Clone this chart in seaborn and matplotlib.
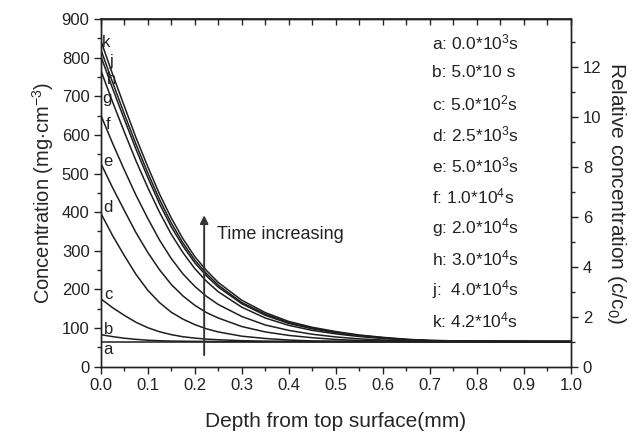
import numpy as np
import pandas as pd
import matplotlib
matplotlib.use("Agg")
import matplotlib.pyplot as plt
import seaborn as sns
from matplotlib.ticker import MultipleLocator

sns.set_theme(style="ticks")
plt.rcParams['font.family'] = ['Liberation Sans', 'DejaVu Sans']
plt.rcParams['mathtext.fontset'] = 'custom'
plt.rcParams['mathtext.rm'] = 'Liberation Sans'
plt.rcParams['mathtext.it'] = 'Liberation Sans:italic'
plt.rcParams['mathtext.bf'] = 'Liberation Sans:bold'

# ---- data ----
depth = [0.0, 0.025, 0.05, 0.075, 0.1, 0.125, 0.15, 0.175, 0.2, 0.225, 0.25,
         0.3, 0.35, 0.4, 0.45, 0.5, 0.55, 0.6, 0.65, 0.7, 0.8, 0.9, 1.0]
curve_a = [65] * 23
curve_b = [83, 77.9, 73.8, 70.8, 68.5, 67.2, 66.4, 65.9, 65.6, 65.4, 65.2,
           65, 65, 65, 65, 65, 65, 65, 65, 65, 65, 65, 65]
curve_c = [176, 153, 133, 115, 101, 90.5, 83, 77.5, 74, 71.4, 69.8,
           67.3, 66, 65.4, 65.2, 65, 65, 65, 65, 65, 65, 65, 65]
curve_d = [398, 340, 288, 239, 198, 166, 141, 123, 109, 98, 90,
           79, 73, 69, 66.7, 65.8, 65.4, 65.2, 65, 65, 65, 65, 65]
curve_e = [527, 464, 405, 347, 296, 251, 213, 183, 159, 140, 126,
           104, 90, 81, 75, 70.5, 67.8, 66.4, 65.8, 65.4, 65.1, 65, 65]
curve_f = [652, 579, 510, 444, 384, 328, 280, 240, 208, 182, 161,
           130, 108, 94, 84, 77, 72, 69, 67, 66, 65.4, 65.1, 65]
curve_g = [768, 686, 608, 533, 464, 400, 343, 295, 254, 221, 194,
           154, 126, 107, 94, 85, 78, 73, 69.4, 67.1, 65.7, 65.2, 65]
curve_h = [805, 721, 641, 563, 490, 422, 362, 312, 269, 235, 206,
           163, 133, 112, 98, 88, 80, 74, 70, 67.5, 66, 65.3, 65]
curve_j = [822, 737, 655, 576, 502, 433, 372, 320, 276, 241, 211,
           166, 136, 114, 100, 89, 81, 75, 70.5, 67.7, 66, 65.3, 65]
curve_k = [845, 758, 675, 593, 518, 447, 385, 331, 285, 249, 218,
           172, 140, 117, 102, 91, 82, 76, 71, 68, 66, 65.3, 65]

curve_names = ['a', 'b', 'c', 'd', 'e', 'f', 'g', 'h', 'j', 'k']
curve_values = [curve_a, curve_b, curve_c, curve_d, curve_e, curve_f,
                curve_g, curve_h, curve_j, curve_k]
legend_texts = ['a: 0.0*10$^{3}$s', 'b: 5.0*10 s', 'c: 5.0*10$^{2}$s',
                'd: 2.5*10$^{3}$s', 'e: 5.0*10$^{3}$s', 'f: 1.0*10$^{4}$s',
                'g: 2.0*10$^{4}$s', 'h: 3.0*10$^{4}$s', 'j:  4.0*10$^{4}$s',
                'k: 4.2*10$^{4}$s']
c0 = 64.7

rows = []
for name, vals in zip(curve_names, curve_values):
    for x, y in zip(depth, vals):
        rows.append({'curve': name, 'depth': x, 'conc': y})
df = pd.DataFrame(rows)

# ---- figure ----
fig = plt.figure(figsize=(6.4, 4.36), dpi=100)
L, R, T, B = 100.7, 571.0, 19.0, 366.7
ax = fig.add_axes([L / 640, 1 - B / 436, (R - L) / 640, (B - T) / 436])
ax.set_facecolor('white')

sns.lineplot(data=df, x='depth', y='conc', hue='curve',
             palette=['#1e1e1e'] * len(curve_names), estimator=None,
             linewidth=1.1, legend=False, ax=ax, sort=False)

ax.set_xlim(0, 1.0)
ax.set_ylim(0, 900)
ax.xaxis.set_major_locator(MultipleLocator(0.1))
ax.xaxis.set_minor_locator(MultipleLocator(0.05))
ax.yaxis.set_major_locator(MultipleLocator(100))
ax.yaxis.set_minor_locator(MultipleLocator(50))
ax.set_xticklabels([f'{v:.1f}' for v in ax.get_xticks()])
ax.tick_params(axis='both', which='major', direction='out', length=5,
               width=1, labelsize=12, colors='#222222', pad=3)
ax.tick_params(axis='both', which='minor', direction='out', length=3, width=1)
ax.tick_params(axis='x', top=False)

top = ax.secondary_xaxis('top')
top.xaxis.set_major_locator(MultipleLocator(0.05))
top.tick_params(direction='in', length=4, width=1, labeltop=False)

for s in ax.spines.values():
    s.set_linewidth(1.0)
    s.set_color('#222222')

ax.set_xlabel('Depth from top surface(mm)', fontsize=15, labelpad=14)
ax.set_ylabel('Concentration (mg$\\cdot$cm$^{-3}$)', fontsize=14.5, labelpad=4)

ax2 = ax.twinx()
ax2.set_ylim(0, 900 / c0)
ax2.yaxis.set_major_locator(MultipleLocator(2))
ax2.yaxis.set_minor_locator(MultipleLocator(1))
ax2.tick_params(axis='y', which='major', direction='out', length=5, width=1,
                labelsize=12, colors='#222222')
ax2.tick_params(axis='y', which='minor', direction='out', length=3, width=1)
ax2.set_ylabel('Relative concentration (c/c$_0$)', fontsize=15,
               rotation=270, labelpad=19)
for s in ax2.spines.values():
    s.set_linewidth(1.0)
    s.set_color('#222222')

# curve labels
label_pos = {'a': (0.016, 44), 'b': (0.016, 96), 'c': (0.016, 186),
             'd': (0.016, 411), 'e': (0.016, 531), 'f': (0.016, 626),
             'g': (0.013, 695), 'h': (0.023, 743), 'j': (0.023, 790),
             'k': (0.012, 838)}
for name in curve_names:
    x, y = label_pos[name]
    ax.text(x, y, name, fontsize=12, ha='center', va='center', color='#222222')

# time arrow
ax.annotate('', xy=(0.22, 392), xytext=(0.22, 30),
            arrowprops=dict(arrowstyle='-|>', color='#333333', lw=1.4,
                            mutation_scale=12, shrinkA=0, shrinkB=0))
ax.text(0.248, 341, 'Time increasing', fontsize=13, ha='left', va='center',
        color='#222222')

# legend-like text block
tx = (432 - L) / (R - L)
y_first, y_last = 42.0, 320.0
for i, t in enumerate(legend_texts):
    ypix = y_first + i * (y_last - y_first) / 9
    ya = (B - ypix) / (B - T)
    ax.text(tx, ya, t, transform=ax.transAxes, fontsize=12.5, ha='left',
            va='center', color='#222222')

fig.savefig('out.png', dpi=100, facecolor='white')
